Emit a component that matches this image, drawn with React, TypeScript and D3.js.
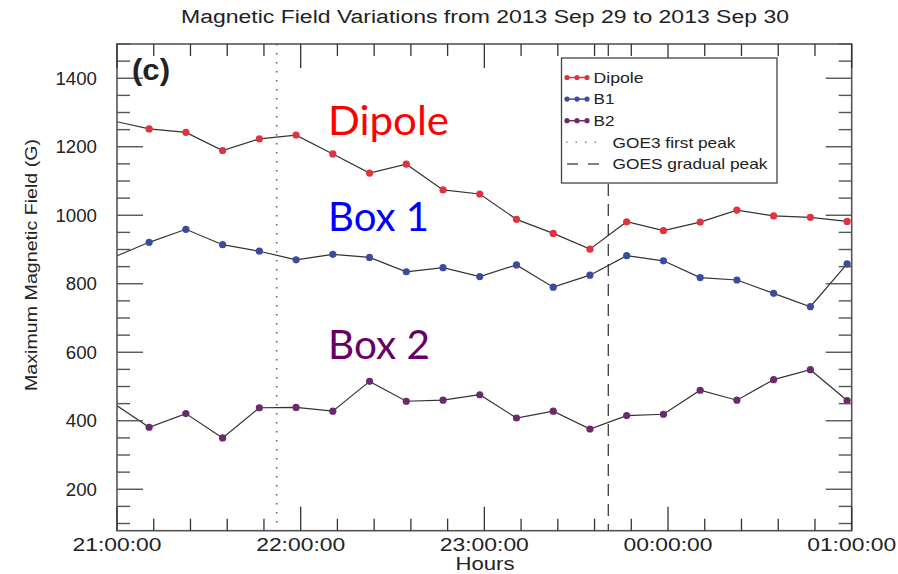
import React from "react";
import * as d3 from "d3";

const W = 898;
const H = 574;

const titleText = "Magnetic Field Variations from 2013 Sep 29 to 2013 Sep 30";
const yAxisTitle = "Maximum Magnetic Field (G)";
const xAxisTitle = "Hours";
const panelLabel = "(c)";

const times = [
  "2013-09-29 20:58:30", "2013-09-29 21:10:30", "2013-09-29 21:22:30", "2013-09-29 21:34:30",
  "2013-09-29 21:46:30", "2013-09-29 21:58:30", "2013-09-29 22:10:30", "2013-09-29 22:22:30",
  "2013-09-29 22:34:30", "2013-09-29 22:46:30", "2013-09-29 22:58:30", "2013-09-29 23:10:30",
  "2013-09-29 23:22:30", "2013-09-29 23:34:30", "2013-09-29 23:46:30", "2013-09-29 23:58:30",
  "2013-09-30 00:10:30", "2013-09-30 00:22:30", "2013-09-30 00:34:30", "2013-09-30 00:46:30",
  "2013-09-30 00:58:30",
];

const dipole = [1276, 1252, 1242, 1189, 1223, 1234, 1179, 1123, 1149, 1074, 1062, 988, 947, 901, 981, 955, 980, 1015, 998, 994, 982];
const b1 = [876, 921, 959, 914, 895, 870, 886, 877, 835, 847, 821, 855, 790, 825, 882, 867, 818, 811, 772, 733, 858];
const b2 = [453, 381, 421, 350, 438, 439, 428, 515, 457, 460, 476, 408, 428, 376, 415, 419, 489, 460, 520, 549, 459];

const seriesNames = ["Dipole", "B1", "B2"];
const seriesColors = ["#e0323f", "#3a4c9e", "#6b2a6c"];

const xDomain = ["2013-09-29 21:00:00", "2013-09-30 01:00:00"];
const xMajorTicks = ["2013-09-29 21:00:00", "2013-09-29 22:00:00", "2013-09-29 23:00:00", "2013-09-30 00:00:00", "2013-09-30 01:00:00"];
const yDomain = [79, 1500];
const yMajorTicks = [200, 400, 600, 800, 1000, 1200, 1400];

const goesFirstPeak = "2013-09-29 21:52:10";
const goesGradualPeak = "2013-09-29 23:40:30";

const annotations = [
  { text: "Dipole", color: "#ff0000", value: 1234, len: 121 },
  { text: "Box 1", color: "#0000ff", value: 955, len: 101 },
  { text: "Box 2", color: "#660066", value: 580, len: 102 },
];

const legendLabels = ["Dipole", "B1", "B2", "GOE3 first peak", "GOES gradual peak"];
const legendLens = [50, 21, 21, 123, 155];

const parse = d3.timeParse("%Y-%m-%d %H:%M:%S");

export default function App() {
  const left = 117, right = 851.7, top = 44, bottom = 530.7;
  const x = d3.scaleTime().domain(xDomain.map((s) => parse(s)!)).range([left, right]);
  const y = d3.scaleLinear().domain(yDomain).range([bottom, top]);
  const dates = times.map((s) => parse(s)!);
  const allSeries = [dipole, b1, b2];

  const line = d3
    .line<number>()
    .x((_, i) => x(dates[i]))
    .y((d) => y(d));

  const xMinor = d3.timeMinute.every(12)!.range(x.domain()[0], d3.timeMinute.offset(x.domain()[1], 1));
  const yMinor = d3.range(100, 1501, 50).filter((v) => v >= yDomain[0] && v <= yDomain[1]);
  const fmt = d3.timeFormat("%H:%M:%S");
  const axisColor = "#555";
  const font = "'Liberation Sans', Arial, sans-serif";

  const legX = 561.5, legY = 58, legW = 215.5, legH = 125;
  const rowY = (i: number) => 77.5 + i * 21.6;

  return (
    <svg width={W} height={H} style={{ position: "absolute", left: 0, top: 0, background: "#fff" }} fontFamily={font}>
      <defs>
        <clipPath id="plotclip">
          <rect x={left} y={top} width={right - left} height={bottom - top} />
        </clipPath>
      </defs>
      <rect x={0} y={0} width={W} height={H} fill="#fff" />
      <text x={485} y={23} fontSize={18} textAnchor="middle" fill="#222" textLength={608} lengthAdjust="spacingAndGlyphs">
        {titleText}
      </text>

      {/* vertical reference lines */}
      <line x1={x(parse(goesFirstPeak)!)} x2={x(parse(goesFirstPeak)!)} y1={top} y2={bottom} stroke="#666" strokeWidth={1.6} strokeDasharray="1.6,7.4" />
      <line x1={x(parse(goesGradualPeak)!)} x2={x(parse(goesGradualPeak)!)} y1={top} y2={bottom} stroke="#444" strokeWidth={1.4} strokeDasharray="12,8" />

      {/* series */}
      <g clipPath="url(#plotclip)">
        {allSeries.map((s, k) => (
          <path key={"l" + k} d={line(s) || ""} fill="none" stroke="#333" strokeWidth={1.2} />
        ))}
        {allSeries.map((s, k) =>
          s.map((v, i) => (
            <circle key={"c" + k + "-" + i} cx={x(dates[i])} cy={y(v)} r={3.6} fill={seriesColors[k]} />
          ))
        )}
      </g>

      {/* frame */}
      <rect x={left} y={top} width={right - left} height={bottom - top} fill="none" stroke={axisColor} strokeWidth={1.6} />

      {/* y ticks */}
      {yMinor.map((v) => {
        const major = yMajorTicks.includes(v);
        const len = major ? 26 : 13;
        return (
          <g key={"yt" + v} stroke={axisColor} strokeWidth={1.4}>
            <line x1={left} x2={left + len} y1={y(v)} y2={y(v)} />
            <line x1={right} x2={right - len} y1={y(v)} y2={y(v)} />
          </g>
        );
      })}
      {yMajorTicks.map((v) => (
        <text key={"yl" + v} x={97} y={y(v) + 6.7} fontSize={18.7} textAnchor="end" fill="#222">
          {v}
        </text>
      ))}

      {/* x ticks */}
      {xMinor.map((d) => {
        const major = d.getMinutes() === 0;
        const len = major ? 24 : 12;
        return (
          <g key={"xt" + d.getTime()} stroke="#333" strokeWidth={1.3}>
            <line x1={x(d)} x2={x(d)} y1={bottom} y2={bottom - len} />
            <line x1={x(d)} x2={x(d)} y1={top} y2={top + len} />
          </g>
        );
      })}
      {xMajorTicks.map((s) => (
        <text key={"xl" + s} x={x(parse(s)!)} y={551} fontSize={17.5} textAnchor="middle" fill="#222" textLength={89} lengthAdjust="spacingAndGlyphs">
          {fmt(parse(s)!)}
        </text>
      ))}

      <text x={485} y={570} fontSize={17.5} textAnchor="middle" fill="#222" textLength={59} lengthAdjust="spacingAndGlyphs">
        {xAxisTitle}
      </text>
      <text transform={`translate(37,${265}) rotate(-90)`} fontSize={16.5} textAnchor="middle" fill="#222" textLength={252} lengthAdjust="spacingAndGlyphs">
        {yAxisTitle}
      </text>

      <text x={132} y={80} fontSize={29} fontWeight="bold" fill="#222" textLength={38} lengthAdjust="spacingAndGlyphs">
        {panelLabel}
      </text>

      {/* big annotations */}
      {annotations.map((a) => (
        <text key={a.text} x={328} y={y(a.value) + 0} fontSize={40} fontFamily="Lato, 'Open Sans', sans-serif" fill={a.color} textLength={a.len} lengthAdjust="spacingAndGlyphs">
          {a.text}
        </text>
      ))}

      {/* legend */}
      <rect x={legX} y={legY} width={legW} height={legH} fill="#fff" stroke="#444" strokeWidth={1.3} />
      {seriesNames.map((n, i) => (
        <g key={"lg" + n}>
          <line x1={565} x2={589} y1={rowY(i)} y2={rowY(i)} stroke={seriesColors[i]} strokeWidth={1.5} />
          {[567, 577, 587].map((cx) => (
            <circle key={cx} cx={cx} cy={rowY(i)} r={2.6} fill={seriesColors[i]} />
          ))}
        </g>
      ))}
      <line x1={566} x2={604} y1={rowY(3)} y2={rowY(3)} stroke="#888" strokeWidth={1.5} strokeDasharray="1.5,8" />
      <line x1={567} x2={602} y1={rowY(4)} y2={rowY(4)} stroke="#555" strokeWidth={1.5} strokeDasharray="11,10" />
      {legendLabels.map((t, i) => (
        <text key={"lt" + t} x={i < 3 ? 593.5 : 612.5} y={rowY(i) + 5.3} fontSize={15} fill="#222" textLength={legendLens[i]} lengthAdjust="spacingAndGlyphs">
          {t}
        </text>
      ))}
    </svg>
  );
}
